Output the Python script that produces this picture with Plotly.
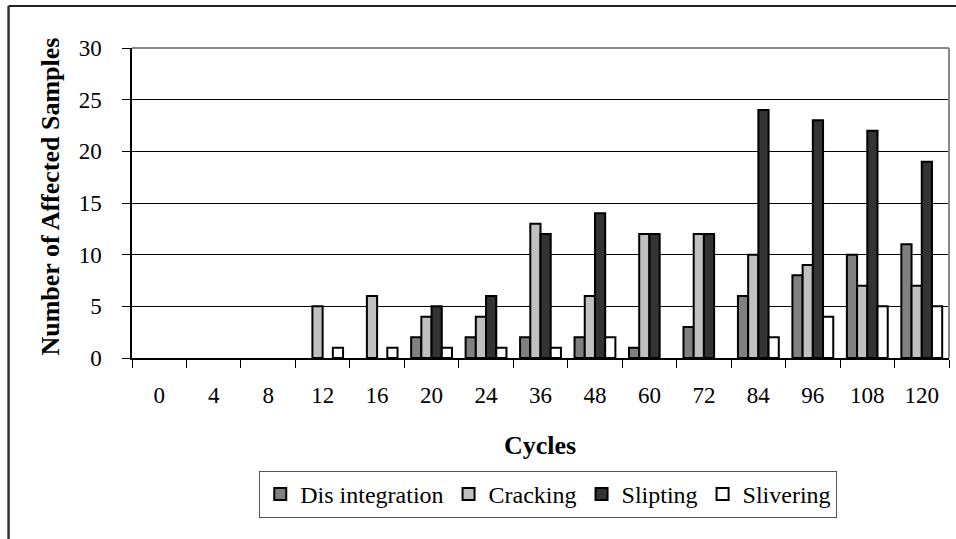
import plotly.graph_objects as go

cycles = ["0", "4", "8", "12", "16", "20", "24", "36", "48", "60", "72", "84", "96", "108", "120"]
disintegration = [0, 0, 0, 0, 0, 2, 2, 2, 2, 1, 3, 6, 8, 10, 11]
cracking = [0, 0, 0, 5, 6, 4, 4, 13, 6, 12, 12, 10, 9, 7, 7]
slipting = [0, 0, 0, 0, 0, 5, 6, 12, 14, 12, 12, 24, 23, 22, 19]
slivering = [0, 0, 0, 1, 1, 1, 1, 1, 2, 0, 0, 2, 4, 5, 5]

series = [
    ("Dis integration", disintegration, "#808080"),
    ("Cracking", cracking, "#C0C0C0"),
    ("Slipting", slipting, "#333333"),
    ("Slivering", slivering, "#FFFFFF"),
]

FONT = "Liberation Serif"
fig = go.Figure()
for name, vals, col in series:
    fig.add_trace(go.Bar(
        x=cycles, y=[v if v else None for v in vals], name=name,
        marker=dict(color=col, line=dict(color="#000000", width=2)),
    ))

W, H = 956, 539
L, R, T, B = 131.5, 7, 48, 181
pw = W - L - R
ph = H - T - B

def px(x):
    return (x - L) / pw

def py(y):
    return (H - B - y) / ph

fig.update_layout(
    width=W, height=H,
    margin=dict(l=L, r=R, t=T, b=B, pad=0),
    paper_bgcolor="white", plot_bgcolor="white",
    font=dict(family=FONT, size=23, color="#000"),
    barmode="group", bargap=0.25, bargroupgap=0,
    showlegend=True,
    legend=dict(
        orientation="h", x=px(548), xanchor="center", y=py(471), yanchor="top",
        bordercolor="#555555", borderwidth=1, bgcolor="white",
        font=dict(family=FONT, size=24), itemwidth=30, tracegroupgap=0,
    ),
    xaxis=dict(
        type="category", showline=True, linecolor="#000", linewidth=1.5,
        ticks="outside", ticklen=8, tickcolor="#000", tickwidth=1,
        tickson="boundaries", showgrid=False, ticklabelstandoff=16,
        tickfont=dict(family=FONT, size=23),
    ),
    yaxis=dict(
        range=[0, 30], dtick=5, showline=True, linecolor="#000", linewidth=1.5,
        ticks="outside", ticklen=8, tickcolor="#000", tickwidth=1,
        showgrid=True, gridcolor="#000", gridwidth=1, zeroline=False,
        ticklabelstandoff=16, tickfont=dict(family=FONT, size=23),
    ),
    annotations=[
        dict(text="<b>Cycles</b>", x=px(540), y=py(445), xref="paper", yref="paper",
             showarrow=False, xanchor="center", yanchor="middle",
             font=dict(family=FONT, size=26)),
        dict(text="<b>Number of Affected Samples</b>", x=px(50), y=py(197),
             xref="paper", yref="paper", showarrow=False, textangle=-90,
             xanchor="center", yanchor="middle", font=dict(family=FONT, size=26)),
    ],
    shapes=[
        dict(type="line", xref="paper", yref="paper", x0=px(8), x1=px(8), y0=py(6), y1=py(545),
             line=dict(color="#333", width=2.5)),
        dict(type="line", xref="paper", yref="paper", x0=px(8), x1=px(960), y0=py(6), y1=py(6),
             line=dict(color="#222", width=2)),
        dict(type="line", xref="paper", yref="paper", x0=0, x1=1, y0=1, y1=1,
             line=dict(color="#888", width=2)),
        dict(type="line", xref="paper", yref="paper", x0=1, x1=1, y0=0, y1=1,
             line=dict(color="#888", width=2)),
    ],
)

fig.write_html("out.html")
